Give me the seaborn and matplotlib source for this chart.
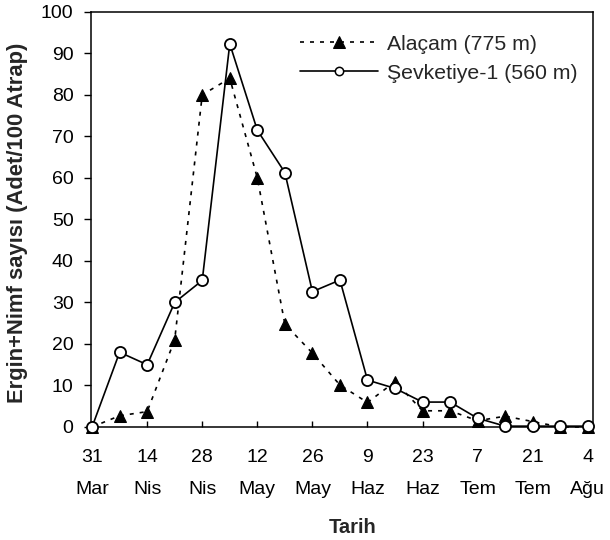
import numpy as np
import pandas as pd
import matplotlib
matplotlib.use("Agg")
import matplotlib.pyplot as plt
import seaborn as sns

# Weekly sampling dates, days after 31 March
days = [0, 7, 14, 21, 28, 35, 42, 49, 56, 63, 70, 77, 84, 91, 98, 105, 112, 119, 126]

alacam = [0, 2.7, 3.7, 21, 80, 84, 60, 24.8, 17.8, 10.1, 5.9, 10.9, 3.9, 3.9, 1.5, 2.6, 1.3, 0, 0]
sevketiye = [0, 18, 15, 30, 35.3, 92.3, 71.5, 61.3, 32.6, 35.4, 11.3, 9.3, 6, 6, 2.1, 0.2, 0.2, 0.2, 0.2]

tick_days = [0, 14, 28, 42, 56, 70, 84, 98, 112, 126]
tick_labels = ["31\nMar", "14\nNis", "28\nNis", "12\nMay", "26\nMay",
               "9\nHaz", "23\nHaz", "7\nTem", "21\nTem", "4\nAğu"]

label_a = "Alaçam (775 m)"
label_s = "Şevketiye-1 (560 m)"

sns.set_theme(style="ticks")
plt.rcParams["font.family"] = ["Liberation Sans", "DejaVu Sans"]

df = pd.DataFrame({"Tarih": days, label_a: alacam, label_s: sevketiye})

fig = plt.figure(figsize=(6.1, 5.4), dpi=100)
ax = fig.add_axes([0.149, 0.2093, 0.823, 0.7687])

sns.lineplot(data=df, x="Tarih", y=label_a, ax=ax, color="black",
             linewidth=1.2, linestyle=(0, (2.4, 3.6)), marker="^", markersize=9,
             markerfacecolor="black", markeredgecolor="black", label=label_a,
             clip_on=False, zorder=3)
sns.lineplot(data=df, x="Tarih", y=label_s, ax=ax, color="black",
             linewidth=1.2, linestyle="-", marker="o", markersize=8,
             markerfacecolor="white", markeredgecolor="black",
             markeredgewidth=1.3, label=label_s, clip_on=False, zorder=4)

ax.set_xlim(-0.3, 127.3)
ax.set_ylim(0, 100)
ax.set_yticks(np.arange(0, 101, 10))
ax.set_xticks(tick_days)
ax.set_xticklabels(tick_labels, fontsize=14, linespacing=2.15)
ax.tick_params(axis="y", labelsize=14, direction="out", length=5, width=1, pad=7.5, colors="black")
ax.tick_params(axis="x", direction="in", length=4, width=1, pad=16, colors="black")

for s in ax.spines.values():
    s.set_visible(True)
    s.set_color("black")
    s.set_linewidth(1.1)

ax.set_xlabel("Tarih", fontsize=14.5, fontweight="bold")
ax.xaxis.set_label_coords(0.522, -0.2195)
ax.set_ylabel("Ergin+Nimf sayısı (Adet/100 Atrap)", fontsize=15.8,
              fontweight="bold")
ax.yaxis.set_label_coords(-0.125, 0.4916)

leg = ax.legend(loc="upper left", bbox_to_anchor=(0.4163, 0.9446), frameon=False,
                fontsize=15.3, handlelength=3.68, handletextpad=0.42,
                labelspacing=0.47, borderaxespad=0, borderpad=0)
leg.legend_handles[0].set_markersize(8)
leg.legend_handles[1].set_markersize(6)
leg.legend_handles[1].set_markeredgewidth(1.1)

fig.savefig("out.png", dpi=100, facecolor="white")
